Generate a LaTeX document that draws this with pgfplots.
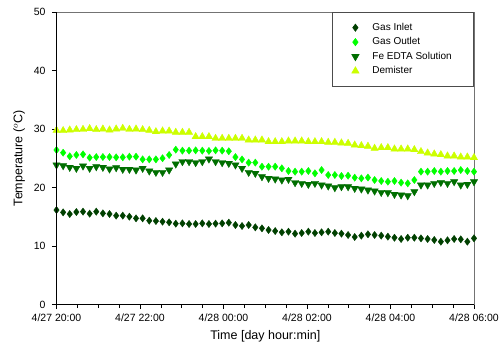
\documentclass[border=0pt]{standalone}
\usepackage{pgfplots}
\pgfplotsset{compat=1.18}
\usepackage{pgfplotstable}
\usepackage{fontspec}
\setmainfont{Liberation Sans}
\definecolor{cInlet}{RGB}{0,64,0}
\definecolor{cOutlet}{RGB}{0,255,0}
\definecolor{cFe}{RGB}{0,110,0}
\definecolor{cDem}{RGB}{204,255,0}
\pgfplotsset{mylegend/.style={legend image code/.code={\path[draw=none,fill=none] (0pt,-3pt) rectangle (36pt,3pt); \draw[mark repeat=2,mark phase=2,##1] plot coordinates {(0pt,0pt) (21pt,0pt) (36pt,0pt)};}}}
\pgfplotstableread{
t inlet outlet fe dem
0.000 16.15 26.41 23.85 29.77
0.159 15.75 25.95 23.73 29.72
0.317 15.47 25.33 23.45 29.83
0.476 15.81 25.56 23.28 29.89
0.635 15.87 25.67 23.68 29.94
0.794 15.53 25.10 23.28 30.06
0.952 15.87 25.21 23.56 29.89
1.111 15.58 25.21 23.45 30.00
1.270 15.47 25.21 23.16 29.83
1.429 15.19 25.16 23.39 30.00
1.587 15.19 25.16 23.11 30.11
1.746 15.01 25.27 23.11 29.94
1.905 14.73 25.27 22.99 30.00
2.063 14.73 24.81 23.28 29.89
2.222 14.33 24.81 22.82 29.77
2.381 14.27 24.81 22.59 29.54
2.540 14.16 25.00 22.59 29.66
2.698 14.05 25.56 22.99 29.66
2.857 13.82 26.47 24.02 29.43
3.016 13.87 26.30 24.42 29.43
3.175 13.76 26.30 24.42 29.43
3.333 13.76 26.35 24.25 28.69
3.492 13.87 26.30 24.42 28.69
3.651 13.76 26.25 24.87 28.69
3.810 13.82 26.35 24.42 28.40
3.968 13.87 26.30 24.25 28.40
4.127 13.99 26.20 24.13 28.40
4.286 13.59 25.20 23.85 28.40
4.444 13.42 24.80 23.28 28.40
4.603 13.59 24.25 22.59 28.12
4.762 13.19 24.25 22.42 28.12
4.921 13.02 23.56 21.85 28.12
5.079 12.74 23.56 21.57 27.83
5.238 12.56 23.56 21.45 27.83
5.397 12.34 23.28 21.28 27.83
5.556 12.45 22.82 21.40 27.95
5.714 12.11 22.71 20.83 27.95
5.873 12.22 22.71 20.71 27.95
6.032 12.45 22.82 20.54 27.83
6.190 12.22 22.42 20.71 27.83
6.349 12.34 22.99 20.43 27.83
6.508 12.45 22.14 20.26 27.72
6.667 12.22 22.14 19.97 27.72
6.825 12.11 21.97 20.14 27.61
6.984 11.88 22.02 20.14 27.55
7.143 11.54 21.68 19.86 27.26
7.302 11.77 21.57 19.74 27.15
7.460 12.00 21.70 19.57 27.05
7.619 11.88 21.28 19.40 26.70
7.778 11.77 21.11 19.17 26.81
7.937 11.60 20.99 19.12 26.81
8.095 11.42 21.11 18.83 26.58
8.254 11.20 20.83 18.72 26.58
8.413 11.42 20.71 18.60 26.58
8.571 11.42 21.28 19.29 26.47
8.730 11.31 22.71 20.43 26.13
8.889 11.20 22.71 20.43 25.90
9.048 11.03 22.82 20.71 25.73
9.206 10.74 22.71 20.88 25.61
9.365 10.97 22.82 20.71 25.39
9.524 11.20 22.82 20.99 25.39
9.683 11.14 22.99 20.43 25.21
9.841 10.74 22.82 20.54 25.21
10.000 11.31 22.71 20.99 25.10
}\datatable
\begin{document}
\begin{tikzpicture}
\useasboundingbox (-56.5pt,-49.5pt) rectangle (443.5pt,304.5pt);
\begin{axis}[
  at={(0pt,0pt)}, anchor=south west,
  scale only axis,
  width=417.5pt, height=292.5pt,
  xmin=0, xmax=10, ymin=0, ymax=50,
  axis line style={draw=black!55},
  xtick={0,2,4,6,8,10},
  xticklabels={4/27 20:00,4/27 22:00,4/28 00:00,4/28 02:00,4/28 04:00,4/28 06:00},
  minor xtick={0,0.5,...,10},
  ytick={0,10,20,30,40,50},
  xtick pos=bottom, ytick pos=left,
  tick align=outside,
  major tick length=4.5pt, minor tick length=3.5pt,
  every tick/.style={black, line width=0.6pt},
  tick label style={font=\fontsize{10.5}{12}\selectfont, /pgf/number format/assume math mode=true},
  xticklabel style={yshift=-1pt},
  yticklabel style={xshift=-3pt},
  xlabel={Time [day hour:min]},
  ylabel={Temperature ($^{o}$C)},
  label style={font=\fontsize{12.5}{14}\selectfont},
  xlabel style={yshift=-2pt},
  ylabel style={yshift=2pt},
  legend style={at={(1,1)}, anchor=north east, draw=black!70, line width=0.6pt,
    font=\fontsize{10}{11}\selectfont, inner xsep=2pt, inner ysep=9pt,
    row sep=1.7pt, fill=white},
  legend cell align=left,
  after end axis/.code={\draw[black, line width=0.8pt] (rel axis cs:0,1) -- (rel axis cs:0,0) -- (rel axis cs:1,0);},
]
\addplot[only marks, mylegend, mark=diamond*, mark size=3.6pt, color=cInlet] table[x=t, y=inlet] {\datatable};
\addlegendentry{Gas Inlet}
\addplot[only marks, mylegend, mark=diamond*, mark size=3.6pt, color=cOutlet] table[x=t, y=outlet] {\datatable};
\addlegendentry{Gas Outlet}
\addplot[only marks, mylegend, mark=triangle*, mark size=4.2pt, mark options={rotate=180}, color=cFe] table[x=t, y=fe] {\datatable};
\addlegendentry{Fe EDTA Solution\rule{18pt}{0pt}}
\addplot[only marks, mylegend, mark=triangle*, mark size=4.2pt, color=cDem] table[x=t, y=dem] {\datatable};
\addlegendentry{Demister}
\end{axis}
\end{tikzpicture}
\end{document}
